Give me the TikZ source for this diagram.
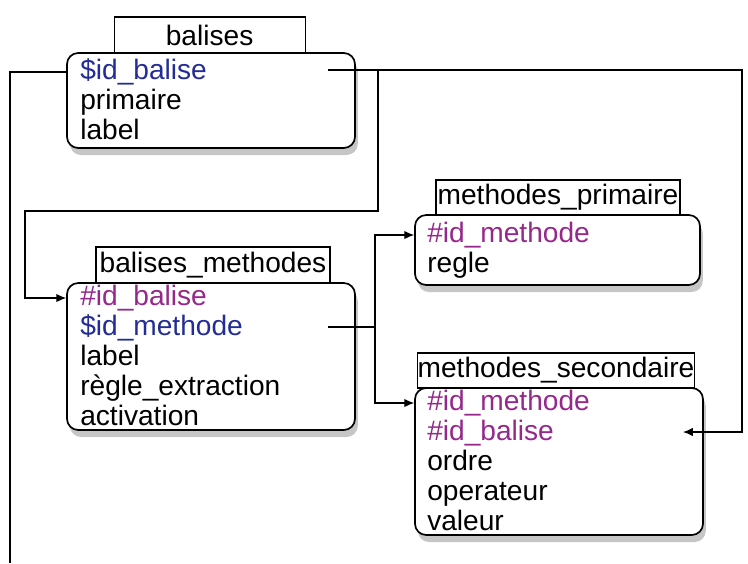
\documentclass[tikz,border=0pt]{standalone}
\usepackage{fontspec}
\setmainfont{Liberation Sans}
\usetikzlibrary{shadows,arrows.meta}
\definecolor{keyblue}{RGB}{35,45,150}
\definecolor{fkpurple}{RGB}{150,40,140}
\begin{document}
\begin{tikzpicture}
    \tikzstyle{titlebox}=[draw=black,thick,fill=white,inner sep=0pt,font=\fontsize{20}{22}\selectfont]
    \tikzstyle{tablebox}=[draw=black,very thick,fill=white,rounded corners=8pt,inner sep=0pt,
        drop shadow={shadow xshift=2pt,shadow yshift=-5pt,opacity=0.45}]
    \tikzstyle{row}=[anchor=west,inner sep=0pt,text height=14pt,text depth=4pt,font=\fontsize{20}{22}\selectfont]
    \tikzstyle{link}=[thick,black,>={Latex[length=7pt,width=6pt]}]

    \useasboundingbox (0,0) rectangle (18.7,-14.075);

    % balises
    \node[titlebox,minimum width=4.775cm,minimum height=0.9cm] at (5.24,-0.875) (tb) {balises};
    \node[tablebox,minimum width=7.2cm,minimum height=2.375cm] at (5.275,-2.5125) (b) {};
    \node[row,text=keyblue] at (2.0,-1.8) (b1) {\$id\_balise};
    \node[row] at (2.0,-2.55) (b2) {primaire};
    \node[row] at (2.0,-3.3) (b3) {label};

    % methodes_primaire
    \node[titlebox,minimum width=6.1cm,minimum height=0.875cm] at (13.95,-4.9375) (tmp) {methodes\_primaire};
    \node[tablebox,minimum width=7.125cm,minimum height=1.75cm] at (13.9375,-6.25) (mp) {};
    \node[row,text=fkpurple] at (10.675,-5.875) (mp1) {\#id\_methode};
    \node[row] at (10.675,-6.625) (mp2) {regle};

    % balises_methodes
    \node[titlebox,minimum width=5.85cm,minimum height=0.9cm] at (5.325,-6.625) (tbm) {balises\_methodes};
    \node[tablebox,minimum width=7.2cm,minimum height=3.675cm] at (5.275,-8.9125) (bm) {};
    \node[row,text=fkpurple] at (2.0,-7.45) (bm1) {\#id\_balise};
    \node[row,text=keyblue] at (2.0,-8.2) (bm2) {\$id\_methode};
    \node[row] at (2.0,-8.95) (bm3) {label};
    \node[row] at (2.0,-9.7) (bm4) {règle\_extraction};
    \node[row] at (2.0,-10.45) (bm5) {activation};

    % methodes_secondaire
    \node[titlebox,minimum width=6.8cm,minimum height=0.875cm] at (13.9,-9.2625) (tms) {methodes\_secondaire};
    \node[tablebox,minimum width=7.2cm,minimum height=3.675cm] at (13.975,-11.5375) (ms) {};
    \node[row,text=fkpurple] at (10.675,-10.075) (ms1) {\#id\_methode};
    \node[row,text=fkpurple] at (10.675,-10.825) (ms2) {\#id\_balise};
    \node[row] at (10.675,-11.575) (ms3) {ordre};
    \node[row] at (10.675,-12.325) (ms4) {operateur};
    \node[row] at (10.675,-13.075) (ms5) {valeur};

    \coordinate (bout) at (8.2,-1.75);
    \coordinate (bmout) at (8.2,-8.175);
    \coordinate (msin) at (17.075,-10.8);
    \coordinate (down) at (0.25,-14.075);

    \draw[link] (b.west |- b1) -| (down);
    \draw[link,->] (bout) -- (18.55,-1.75) |- (msin);
    \draw[link,->] (9.45,-1.75) |- (0.625,-5.275) |- (b.west |- bm1);
    \draw[link] (bmout) -- (9.375,-8.175);
    \draw[link,->] (9.375,-8.175) |- (mp.west |- mp1);
    \draw[link,->] (9.375,-8.175) |- (ms.west |- ms1);
\end{tikzpicture}
\end{document}
